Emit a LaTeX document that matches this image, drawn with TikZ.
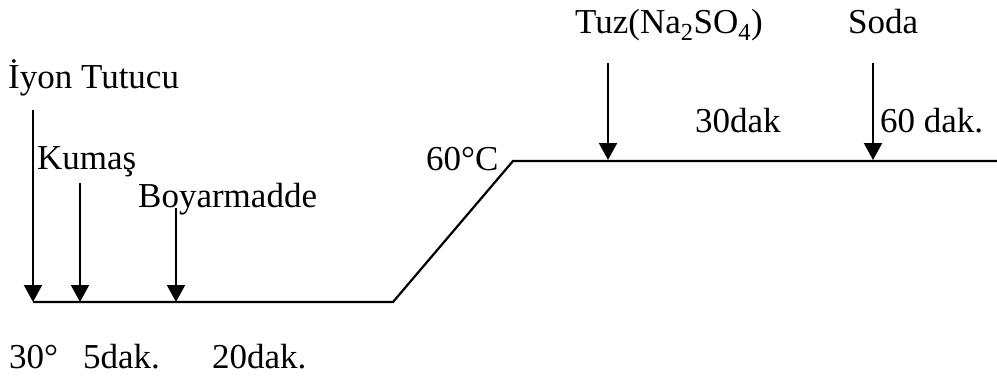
\documentclass[tikz,border=0pt]{standalone}
\usepackage{fontspec}
\setmainfont{Liberation Serif}
\usetikzlibrary{arrows.meta}
\begin{document}
\begin{tikzpicture}[x=1pt,y=-1pt,
  lbl/.style={anchor=base west,inner sep=0pt,font=\fontsize{35}{40}\selectfont},
  curve/.style={line width=2.2pt},
  addarrow/.style={line width=2.2pt,-{Triangle[length=17pt,width=18pt]}}]
\useasboundingbox (0,0) rectangle (997,381);
% profile
\coordinate (p0) at (33,302);
\coordinate (p1) at (393,302);
\coordinate (p2) at (513,161);
\coordinate (p3) at (997,161);
\draw[curve] (p0) -- (p1) -- (p2) -- (p3);
% arrow targets
\coordinate (t1) at (33,302);
\coordinate (t2) at (80,302);
\coordinate (t3) at (176,302);
\coordinate (t4) at (608,160);
\coordinate (t5) at (873,160);
\coordinate (s1) at (33,110);
\coordinate (s2) at (80,183);
\coordinate (s3) at (176,208);
\coordinate (s4) at (608,63);
\coordinate (s5) at (873,63);
\draw[addarrow] (s1) -- (t1);
\draw[addarrow] (s2) -- (t2);
\draw[addarrow] (s3) -- (t3);
\draw[addarrow] (s4) -- (t4);
\draw[addarrow] (s5) -- (t5);
% labels
\node[lbl] (iyon) at (8,88) {İyon Tutucu};
\node[lbl] (kumas) at (37,169) {Kumaş};
\node[lbl] (boya) at (138,207) {Boyarmadde};
\node[lbl] (temp2) at (426,170) {60°C};
\node[lbl] (tuz) at (575,33) {Tuz(Na\textsubscript{2}SO\textsubscript{4})};
\node[lbl] (soda) at (848,33) {Soda};
\node[lbl] (t30) at (695,132) {30dak};
\node[lbl] (t60) at (880,132) {60 dak.};
\node[lbl] (temp1) at (9,368) {30°};
\node[lbl] (d5) at (83,368) {5dak.};
\node[lbl] (d20) at (212,368) {20dak.};
\end{tikzpicture}
\end{document}
